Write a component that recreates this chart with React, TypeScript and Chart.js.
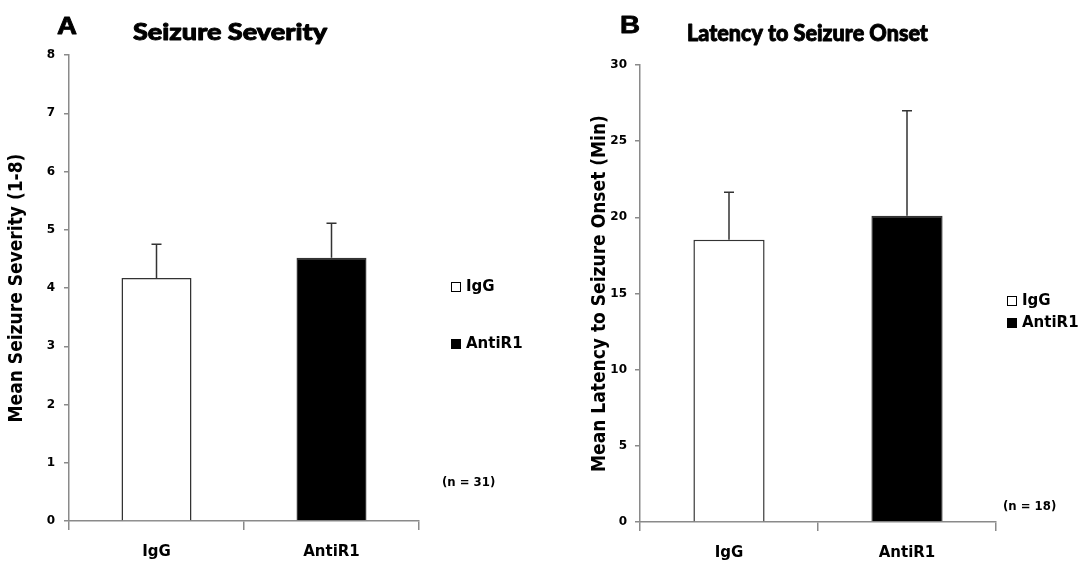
import React, { useEffect, useRef } from 'react';
import { Chart, registerables } from 'chart.js';

Chart.register(...registerables);

// ---------- data ----------
const categories = ['IgG', 'AntiR1'];
const severityMeans = [4.17, 4.52];
const severityErrors = [0.58, 0.59];
const latencyMeans = [18.53, 20.1];
const latencyErrors = [3.11, 6.9];
const severityTickMax = 8;
const severityTickStep = 1;
const latencyTickMax = 30;
const latencyTickStep = 5;
const barColors = ['#ffffff', '#000000'];
const legendLabels = ['IgG', 'AntiR1'];

const H = 563;
const AXIS_COLOR = '#8a8a8a';
const COND = '"DejaVu Sans Condensed", "DejaVu Sans", sans-serif';
const DJV = '"DejaVu Sans", sans-serif';

type Panel = {
  letter: string;
  title: string;
  yTitle: string;
  means: number[];
  errors: number[];
  max: number;
  step: number;
  nLabel: string;
  width: number;
  area: { left: number; right: number; top: number; bottom: number };
  letterX: number;
  letterY: number;
  titleX: number;
  titleY: number;
  titleW: number;
  legendX: number;
  legendY: number[];
  nX: number;
  nY: number;
  yTitlePad: number;
  tickSize: number;
  tickPad: number;
};

const panels: Panel[] = [
  {
    letter: 'A',
    title: 'Seizure Severity',
    yTitle: 'Mean Seizure Severity (1-8)',
    means: severityMeans,
    errors: severityErrors,
    max: severityTickMax,
    step: severityTickStep,
    nLabel: '(n = 31)',
    width: 540,
    area: { left: 69, right: 419, top: 55, bottom: 521 },
    letterX: 67,
    letterY: 34,
    titleX: 133,
    titleY: 40,
    titleW: 194,
    legendX: 451,
    legendY: [287, 344],
    nX: 442,
    nY: 483,
    yTitlePad: 6,
    tickSize: 12,
    tickPad: 9,
  },
  {
    letter: 'B',
    title: 'Latency to Seizure Onset',
    yTitle: 'Mean Latency to Seizure Onset (Min)',
    means: latencyMeans,
    errors: latencyErrors,
    max: latencyTickMax,
    step: latencyTickStep,
    nLabel: '(n = 18)',
    width: 541,
    area: { left: 100, right: 456, top: 65, bottom: 522 },
    letterX: 90,
    letterY: 33,
    titleX: 147,
    titleY: 41,
    titleW: 241,
    legendX: 467,
    legendY: [301, 323],
    nX: 463,
    nY: 507,
    yTitlePad: 49,
    tickSize: 12,
    tickPad: 8,
  },
];

function drawText(
  ctx: CanvasRenderingContext2D,
  text: string,
  x: number,
  y: number,
  font: string,
  opts: {
    align?: 'left' | 'center' | 'right';
    baseline?: CanvasTextBaseline;
    width?: number;
    stroke?: number;
  } = {}
) {
  ctx.save();
  ctx.font = font;
  ctx.fillStyle = '#000';
  ctx.strokeStyle = '#000';
  ctx.textAlign = 'left';
  ctx.textBaseline = opts.baseline ?? 'alphabetic';
  const w = ctx.measureText(text).width;
  const sx = opts.width ? opts.width / w : 1;
  const dw = w * sx;
  let left = x;
  if (opts.align === 'center') left = x - dw / 2;
  else if (opts.align === 'right') left = x - dw;
  ctx.translate(left, y);
  ctx.scale(sx, 1);
  ctx.fillText(text, 0, 0);
  if (opts.stroke) {
    ctx.lineWidth = opts.stroke;
    ctx.lineJoin = 'round';
    ctx.strokeText(text, 0, 0);
  }
  ctx.restore();
}

function makeErrorBarPlugin(errors: number[]) {
  return {
    id: 'errorBars',
    afterDatasetsDraw(chart: any) {
      const ctx: CanvasRenderingContext2D = chart.ctx;
      const meta = chart.getDatasetMeta(0);
      const yScale = chart.scales.y;
      const values = chart.data.datasets[0].data as number[];
      ctx.save();
      ctx.strokeStyle = '#333';
      ctx.lineWidth = 1.5;
      meta.data.forEach((bar: any, i: number) => {
        const x = bar.x;
        const yBar = yScale.getPixelForValue(values[i]);
        const yTop = yScale.getPixelForValue(values[i] + errors[i]);
        ctx.beginPath();
        ctx.moveTo(x, yBar);
        ctx.lineTo(x, yTop);
        ctx.moveTo(x - 5, yTop);
        ctx.lineTo(x + 5, yTop);
        ctx.stroke();
      });
      ctx.restore();
    },
  };
}

function makeTextPlugin(p: Panel) {
  return {
    id: 'panelText',
    afterDraw(chart: any) {
      const ctx: CanvasRenderingContext2D = chart.ctx;
      drawText(ctx, p.letter, p.letterX, p.letterY, 'bold 24px "Liberation Sans", Arial, sans-serif', {
        align: 'center',
        width: 20,
        stroke: 0.8,
      });
      drawText(ctx, p.title, p.titleX, p.titleY, '900 22px Lato, "Open Sans", sans-serif', {
        width: p.titleW,
        stroke: 0.9,
      });
      legendLabels.forEach((lab, i) => {
        const cy = p.legendY[i];
        ctx.save();
        ctx.fillStyle = barColors[i];
        ctx.fillRect(p.legendX, cy - 5, 10, 10);
        ctx.strokeStyle = '#000';
        ctx.lineWidth = 1;
        ctx.strokeRect(p.legendX + 0.5, cy - 4.5, 9, 9);
        ctx.restore();
        drawText(ctx, lab, p.legendX + 15, cy, `bold 15px ${DJV}`, { baseline: 'middle' });
      });
      drawText(ctx, p.nLabel, p.nX, p.nY, `bold 13px ${COND}`, { baseline: 'middle' });
    },
  };
}

function PanelChart({ p }: { p: Panel }) {
  const ref = useRef<HTMLCanvasElement | null>(null);
  useEffect(() => {
    if (!ref.current) return;
    const chart = new Chart(ref.current, {
      type: 'bar',
      data: {
        labels: categories,
        datasets: [
          {
            data: p.means,
            backgroundColor: barColors,
            borderColor: '#333',
            borderWidth: 1.5,
            barPercentage: 0.4,
            categoryPercentage: 1,
          },
        ],
      },
      options: {
        responsive: false,
        animation: false,
        maintainAspectRatio: false,
        layout: { padding: { left: 0, top: p.area.top, right: p.width - p.area.right, bottom: 0 } },
        plugins: {
          legend: { display: false },
          tooltip: { enabled: false },
          title: { display: false },
        },
        scales: {
          x: {
            grid: {
              display: true,
              drawOnChartArea: false,
              drawTicks: true,
              tickLength: 9,
              color: AXIS_COLOR,
              lineWidth: 1.5,
              offset: true,
            },
            border: { color: AXIS_COLOR, width: 1.5 },
            ticks: {
              color: '#000',
              font: { family: DJV, size: 15, weight: 'bold' },
              padding: 13,
            },
            afterFit: (s: any) => {
              s.height = H - p.area.bottom;
            },
          },
          y: {
            min: 0,
            max: p.max,
            ticks: {
              stepSize: p.step,
              color: '#000',
              font: { family: DJV, size: p.tickSize, weight: 'bold' },
              padding: p.tickPad,
            },
            grid: {
              drawOnChartArea: false,
              drawTicks: true,
              tickLength: 5,
              color: AXIS_COLOR,
              lineWidth: 1.5,
            },
            border: { color: AXIS_COLOR, width: 1.5 },
            title: {
              display: true,
              text: p.yTitle,
              color: '#000',
              font: { family: COND, size: 19, weight: 'bold' },
              padding: { top: p.yTitlePad, bottom: 0 },
            },
            afterFit: (s: any) => {
              s.width = p.area.left;
            },
          },
        },
      } as any,
      plugins: [makeErrorBarPlugin(p.errors), makeTextPlugin(p)],
    });
    return () => chart.destroy();
  }, [p]);
  return (
    <canvas
      ref={ref}
      width={p.width}
      height={H}
      style={{ width: p.width, height: H, display: 'block' }}
    />
  );
}

export default function App() {
  return (
    <div
      style={{
        position: 'absolute',
        left: 0,
        top: 0,
        width: 1081,
        height: H,
        background: '#fff',
        display: 'flex',
      }}
    >
      {panels.map((p) => (
        <PanelChart key={p.letter} p={p} />
      ))}
    </div>
  );
}
